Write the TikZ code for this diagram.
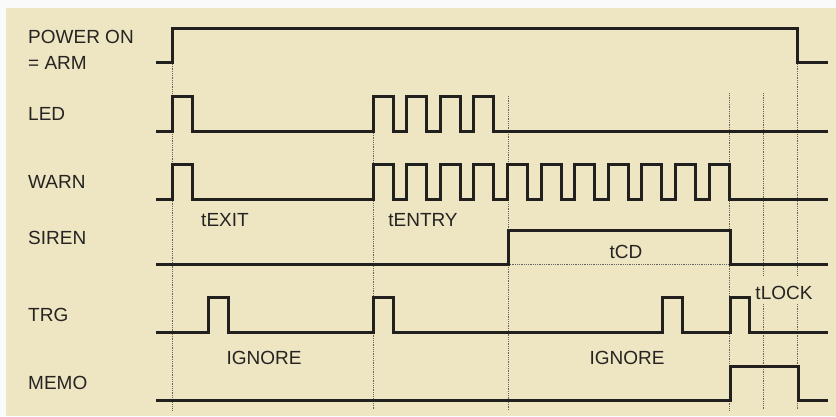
\documentclass[tikz,border=0pt]{standalone}
\usepackage{fontspec}
\setmainfont{Liberation Sans}
\definecolor{bgc}{RGB}{238,229,194}
\definecolor{ink}{RGB}{34,32,30}
\definecolor{txt}{RGB}{38,36,34}
\begin{document}
\begin{tikzpicture}[x=1pt,y=-1pt,
  sig/.style={draw=ink,line width=3pt,line join=miter},
  guide/.style={draw=ink!70,densely dotted,line width=0.8pt},
  lab/.style={text=txt,font=\fontsize{19}{21}\selectfont,inner sep=0pt},
  tlab/.style={lab,anchor=center},
  llab/.style={lab,anchor=west}]
\useasboundingbox (0,0) rectangle (836,416);
\fill[white!96!gray] (0,0) rectangle (836,416);
\fill[bgc] (6,8) rectangle (836,416);
% guides
\draw[guide] (172,64) -- (172,410);
\draw[guide] (373,133) -- (373,410);
\draw[guide] (508,96) -- (508,410);
\draw[guide] (729,93) -- (729,410);
\draw[guide] (763,93) -- (763,275) (763,304) -- (763,410);
\draw[guide] (797,64) -- (797,275) (797,304) -- (797,410);
\draw[guide] (508,264) -- (729,264);
% labels
\node[llab] (lpow) at (28,37) {POWER ON};
\node[llab] (larm) at (28,63) {= ARM};
\node[llab] (lled) at (28,114) {LED};
\node[llab] (lwarn) at (28,182) {WARN};
\node[llab] (lsir) at (28,238) {SIREN};
\node[llab] (ltrg) at (28,315) {TRG};
\node[llab] (lmemo) at (28,383) {MEMO};
\node[tlab] (texit) at (225,220) {tEXIT};
\node[tlab] (tentry) at (423,220) {tENTRY};
\node[tlab] (tcd) at (626,252) {tCD};
\node[tlab] (tlock) at (784,293) {tLOCK};
\node[tlab] (ign1) at (264,358) {IGNORE};
\node[tlab] (ign2) at (627,358) {IGNORE};
% POWER ON
\draw[sig] (156,62) -- (172,62) -- (172,28) -- (797,28) -- (797,62) -- (828,62);
% LED
\draw[sig] (156,131) -- (172,131) -- (172,96) -- (192,96) -- (192,131) -- (373,131)
  \foreach \k in {0,...,3} { -- ({373+33.6*\k},131) -- ({373+33.6*\k},96) -- ({393+33.6*\k},96) -- ({393+33.6*\k},131) }
  -- (828,131);
% WARN
\draw[sig] (156,199) -- (172,199) -- (172,164) -- (192,164) -- (192,199) -- (373,199)
  \foreach \k in {0,...,10} { -- ({373+33.6*\k},199) -- ({373+33.6*\k},164) -- ({393+33.6*\k},164) -- ({393+33.6*\k},199) }
  -- (828,199);
% SIREN
\draw[sig] (156,264) -- (508,264) -- (508,230) -- (730,230) -- (730,264) -- (828,264);
% TRG
\draw[sig] (156,332) -- (208,332) -- (208,297) -- (228,297) -- (228,332)
  -- (373,332) -- (373,297) -- (393,297) -- (393,332)
  -- (662,332) -- (662,297) -- (682,297) -- (682,332)
  -- (730,332) -- (730,297) -- (749,297) -- (749,332) -- (828,332);
% MEMO
\draw[sig] (156,400) -- (730,400) -- (730,366) -- (798,366) -- (798,400) -- (828,400);
\end{tikzpicture}
\end{document}
